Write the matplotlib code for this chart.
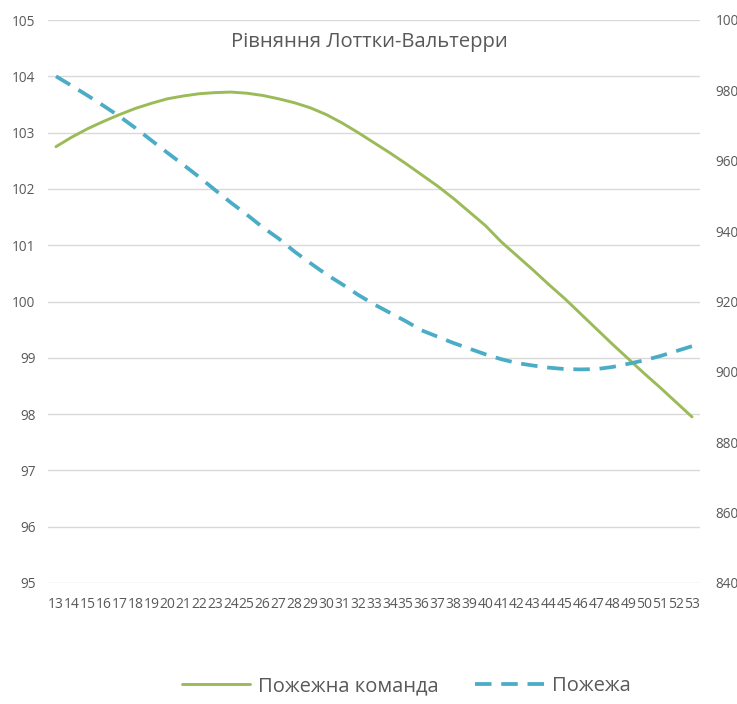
import matplotlib
matplotlib.use("Agg")
import matplotlib.pyplot as plt
import numpy as np

# Time steps shown on the category axis
steps = list(range(13, 54))

# Fire brigade population (left axis)
brigade = [102.75, 102.92, 103.07, 103.20, 103.32, 103.43, 103.52, 103.60, 103.65, 103.69,
           103.71, 103.72, 103.70, 103.66, 103.60, 103.53, 103.44, 103.32, 103.17, 103.00,
           102.82, 102.64, 102.45, 102.25, 102.05, 101.83, 101.59, 101.35, 101.06, 100.81,
           100.56, 100.30, 100.05, 99.78, 99.51, 99.24, 98.98, 98.72, 98.47, 98.21, 97.95]

# Fire population (right axis)
fire = [984.0, 981.3, 978.5, 975.6, 972.6, 969.3, 965.8, 962.3, 958.9, 955.4,
        951.7, 948.1, 944.7, 941.1, 937.9, 934.2, 930.9, 927.7, 924.9, 921.9,
        919.2, 916.8, 914.4, 911.8, 910.0, 908.2, 906.6, 905.0, 903.6, 902.5,
        901.8, 901.2, 900.8, 900.7, 900.8, 901.4, 902.3, 903.3, 904.5, 905.9, 907.3]

left_ticks = list(range(95, 106))
right_ticks = list(range(840, 1001, 20))

title = "Рівняння Лоттки-Вальтерри"
label_brigade = "Пожежна команда"
label_fire = "Пожежа"

GREEN = "#9BBB59"
BLUE = "#4BACC6"
TEXT = "#595959"
GRID = "#D9D9D9"

plt.rcParams["font.family"] = ["Open Sans", "DejaVu Sans"]

fig = plt.figure(figsize=(7.37, 7.04), dpi=100)
ax = fig.add_axes([48 / 737, 1 - 583 / 704, 652 / 737, 563 / 704])
ax2 = ax.twinx()

x = np.arange(len(steps))
l1, = ax.plot(x, brigade, color=GREEN, lw=2.1, solid_capstyle="round", zorder=3)
l2, = ax2.plot(x, fire, color=BLUE, lw=2.7, ls=(0, (4.4, 2.6)), zorder=3)

ax.set_xlim(-0.5, len(steps) - 0.5)
ax.set_ylim(95, 105)
ax2.set_ylim(840, 1000)
ax.set_yticks(left_ticks)
ax2.set_yticks(right_ticks)
ax.set_xticks(x)
ax.set_xticklabels([str(s) for s in steps])

ax.grid(axis="y", color=GRID, lw=1.0)
ax.set_axisbelow(True)
for a in (ax, ax2):
    for sp in a.spines.values():
        sp.set_visible(False)
    a.tick_params(length=0, colors=TEXT, labelsize=9.8)
ax.tick_params(axis="x", pad=10, labelsize=10)
ax.tick_params(axis="y", pad=9)
ax2.tick_params(axis="y", pad=11)

fig.text(369 / 737, 1 - 42 / 704, title, ha="center", va="center",
         fontsize=14.6, color=TEXT)

leg = fig.legend([l1, l2], [label_brigade, label_fire], loc="center",
                 bbox_to_anchor=(406 / 737, 1 - 686 / 704), ncol=2, frameon=False,
                 fontsize=14.5, handlelength=3.4, columnspacing=1.8, handletextpad=0.4)
for t in leg.get_texts():
    t.set_color(TEXT)

fig.savefig("out.png", dpi=100)
